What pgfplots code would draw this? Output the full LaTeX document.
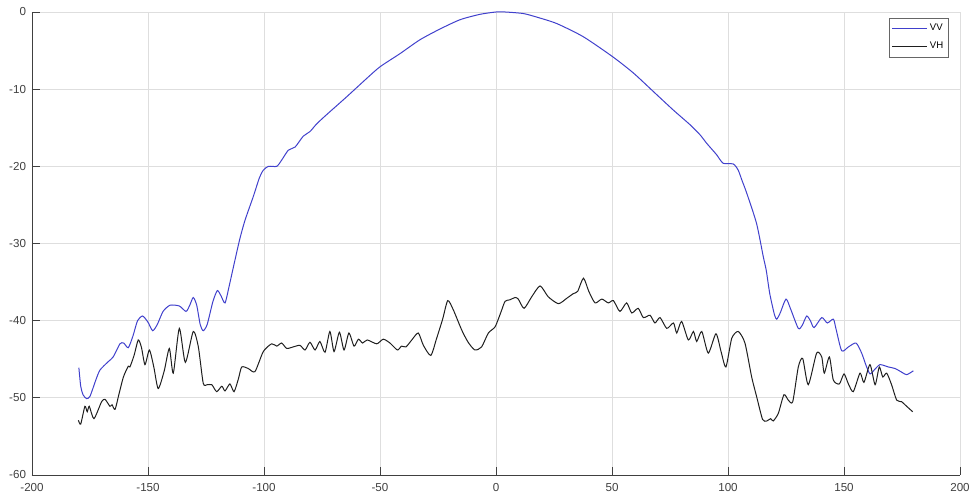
\documentclass[border=0pt]{standalone}
\usepackage{fontspec}
\setmainfont{Liberation Sans}
\usepackage{pgfplots}
\pgfplotsset{compat=1.18}
\definecolor{vvblue}{rgb}{0.25,0.25,0.8}
\definecolor{vhblack}{rgb}{0.12,0.12,0.12}
\begin{document}
\begin{tikzpicture}
\begin{axis}[
  scale only axis,
  width=696pt, height=347.25pt,
  xmin=-200, xmax=200, ymin=-60, ymax=0,
  xtick={-200,-150,...,200},
  ytick={-60,-50,...,0},
  axis x line*=bottom, axis y line*=left,
  axis line style={black!75, line width=0.6pt, -},
  tick align=inside,
  major tick length=6pt,
  tick style={black!75, line width=0.6pt},
  grid=major,
  grid style={black!13, line width=0.6pt},
  ticklabel style={font=\fontsize{8.7}{10}\selectfont, text=black!75},
  /pgf/number format/assume math mode=true,
  xticklabel style={yshift=-3pt},
  yticklabel style={xshift=-1pt},
  clip=false,
  legend style={at={(0.988,0.987)}, anchor=north east,
    draw=black!60, line width=0.5pt, font=\fontsize{7.2}{8.4}\selectfont,
    inner xsep=2pt, inner ysep=2.5pt, row sep=3pt},
  legend cell align=left,
  legend image code/.code={\draw[#1] (0pt,0pt) -- (26pt,0pt);},
]
\coordinate (bl) at (rel axis cs:0,0);
\coordinate (tr) at (rel axis cs:1,1);
% VV co-polar pattern
\addplot[vvblue, line width=0.75pt, smooth, tension=0.4] coordinates {
(-179.8,-46.1) (-179.0,-48.5) (-178,-49.6) (-176.5,-50.1) (-175,-49.8)
(-172.5,-47.7) (-170.7,-46.4) (-167.1,-45.3) (-165,-44.7) (-162.1,-43.0)
(-160.5,-42.9) (-158.5,-43.5) (-156.5,-42.0) (-154.5,-40.0) (-152.3,-39.4)
(-150,-40.2) (-148.0,-41.3) (-146,-40.5) (-143.5,-38.8) (-140.5,-38.0)
(-136.5,-38.1) (-133.6,-38.8) (-132,-38.0) (-130.5,-37.0) (-129,-38.0)
(-127.5,-40.5) (-126.2,-41.3) (-124.5,-40.5) (-122,-37.5) (-120.1,-36.1)
(-118.5,-36.8) (-116.8,-37.7) (-115,-35.5) (-113,-32.8) (-110.5,-29.5)
(-108.2,-27.0) (-104.6,-23.9) (-102,-21.5) (-100.3,-20.5) (-98.1,-20.0)
(-94.5,-20.0) (-92.4,-19.2) (-89.5,-17.9) (-86.6,-17.5) (-83.1,-16.1)
(-80.2,-15.5) (-77.3,-14.5) (-73.0,-13.3) (-64.4,-11.0) (-55.7,-8.6)
(-50,-7.1) (-41.4,-5.4) (-32.8,-3.6) (-24.1,-2.2) (-15.5,-1.0)
(-6.9,-0.3) (0,0) (4,0) (11.8,-0.2) (18,-0.7)
(26.2,-1.5) (37.6,-3.2) (50.3,-5.8) (59.2,-7.9) (67.8,-10.3)
(76.4,-12.7) (83.6,-14.6) (87.9,-15.9) (90.5,-16.9) (92.2,-17.5)
(95.1,-18.5) (97.9,-19.6) (102.3,-19.7) (104.4,-20.5) (106,-21.8)
(108.1,-23.5) (112.3,-27.4) (115.2,-31.7) (116.5,-33.5) (118,-36.5)
(120,-39.2) (121,-39.8) (122.5,-39.0) (125,-37.2) (127,-38.5)
(130.3,-41.0) (132,-40.6) (133.9,-39.4) (135.5,-40.0) (137.1,-40.9)
(140.4,-39.6) (142.8,-40.3) (145.4,-39.8) (146.5,-41) (149.0,-43.9)
(151.9,-43.4) (155.2,-42.9) (157.6,-44.2) (159.5,-45.8) (161.2,-46.9)
(163,-46.4) (165.5,-45.7) (169.1,-46.0) (172,-46.2) (175,-46.7)
(177,-47.0) (179.9,-46.5)
};
\addlegendentry{VV}
% VH cross-polar pattern
\addplot[vhblack, line width=0.75pt, smooth, tension=0.4] coordinates {
(-180.0,-52.9) (-179.0,-53.4) (-177.2,-51.1) (-176.2,-51.8) (-175.3,-51.1)
(-173.3,-52.7) (-170.0,-50.5) (-168.5,-50.2) (-166.4,-51.1) (-165.5,-50.9)
(-164.2,-51.5) (-162.5,-49.5) (-160.6,-47.3) (-158.5,-45.9) (-157.8,-46.0)
(-156,-44.5) (-154.2,-42.5) (-152.8,-43.5) (-151.3,-45.7) (-149.4,-43.8)
(-147.5,-46) (-145.6,-48.8) (-143,-46.5) (-140.8,-43.6) (-139.1,-46.8)
(-136.5,-41.0) (-133.9,-45.4) (-130.5,-41.4) (-128.3,-43.4) (-126.2,-48.1)
(-124.5,-48.3) (-122.5,-48.3) (-120.4,-49.2) (-118.2,-48.5) (-116.8,-49.1)
(-114.7,-48.2) (-112.9,-49.2) (-111,-47.5) (-109.6,-46.0) (-106.8,-46.2)
(-103.9,-46.6) (-100.3,-44.0) (-96.7,-43.0) (-94.5,-43.3) (-92.4,-42.9)
(-90.2,-43.6) (-87.4,-43.4) (-84.5,-43.2) (-82.3,-43.8) (-80.2,-42.8)
(-78.0,-43.8) (-75.9,-42.7) (-73.7,-44.1) (-71.6,-41.4) (-69.8,-44.0)
(-67.5,-41.5) (-65.5,-43.8) (-63.4,-41.6) (-61.2,-43.3) (-59.3,-42.4)
(-57.5,-42.9) (-55.5,-42.5) (-51.4,-43.0) (-48.6,-42.4) (-45.7,-42.9)
(-42.5,-43.8) (-40.7,-43.3) (-38.8,-43.4) (-36.3,-42.5) (-33.5,-41.6)
(-31.3,-43.2) (-28.1,-44.5) (-25.6,-42.3) (-23,-39.8) (-20.8,-37.4)
(-18.4,-38.6) (-14.8,-41.2) (-12,-42.8) (-9.1,-43.8) (-6.2,-43.4)
(-3.3,-41.6) (-0.4,-40.8) (2,-39) (3.9,-37.5) (6.0,-37.3)
(8.2,-37.0) (9.6,-37.2) (12.1,-38.4) (15.4,-36.9) (19.0,-35.5)
(22.5,-36.9) (26.9,-37.8) (30.5,-37.1) (33.3,-36.5) (35.2,-36.2)
(37.7,-34.5) (40,-36.2) (42.7,-37.7) (45.6,-37.2) (48.4,-37.7)
(50.6,-37.4) (53.4,-38.8) (56.3,-37.7) (58.5,-39.0) (61.3,-38.4)
(63.5,-39.6) (66.4,-39.3) (68.5,-40.3) (70.7,-39.6) (73.6,-41.0)
(76.5,-40.3) (77.9,-41.6) (80.0,-40.1) (82.9,-42.5) (85.1,-41.4)
(86.5,-42.7) (88.7,-41.4) (91.5,-44.2) (94.8,-41.7) (97,-44)
(99.1,-46.0) (101.6,-42.3) (104.4,-41.4) (107.3,-42.9) (110.2,-47.3)
(112.3,-49.8) (114.9,-52.8) (116.7,-53.0) (118.4,-52.7) (119.5,-53.0)
(121.7,-52.0) (124.1,-49.6) (126.0,-50.3) (127.9,-50.5) (130.3,-46.0)
(132.2,-44.9) (134.6,-48.3) (138.2,-44.2) (140.4,-44.7) (141.5,-46.8)
(143.7,-44.7) (145.4,-47.7) (148.0,-48.2) (150.0,-46.9) (151.9,-48.2)
(154.0,-49.2) (156.9,-46.8) (158.6,-48.0) (161.2,-45.7) (163.4,-48.3)
(165.2,-46.0) (166.7,-47.3) (168.4,-46.8) (170.5,-48.3) (172.7,-50.3)
(174.8,-50.5) (177.0,-51.1) (179.6,-51.8)
};
\addlegendentry{VH}
\end{axis}
\pgfresetboundingbox
\path ([shift={(-24pt,-16.5pt)}]bl) rectangle ([shift={(6.75pt,9pt)}]tr);
\end{tikzpicture}
\end{document}
